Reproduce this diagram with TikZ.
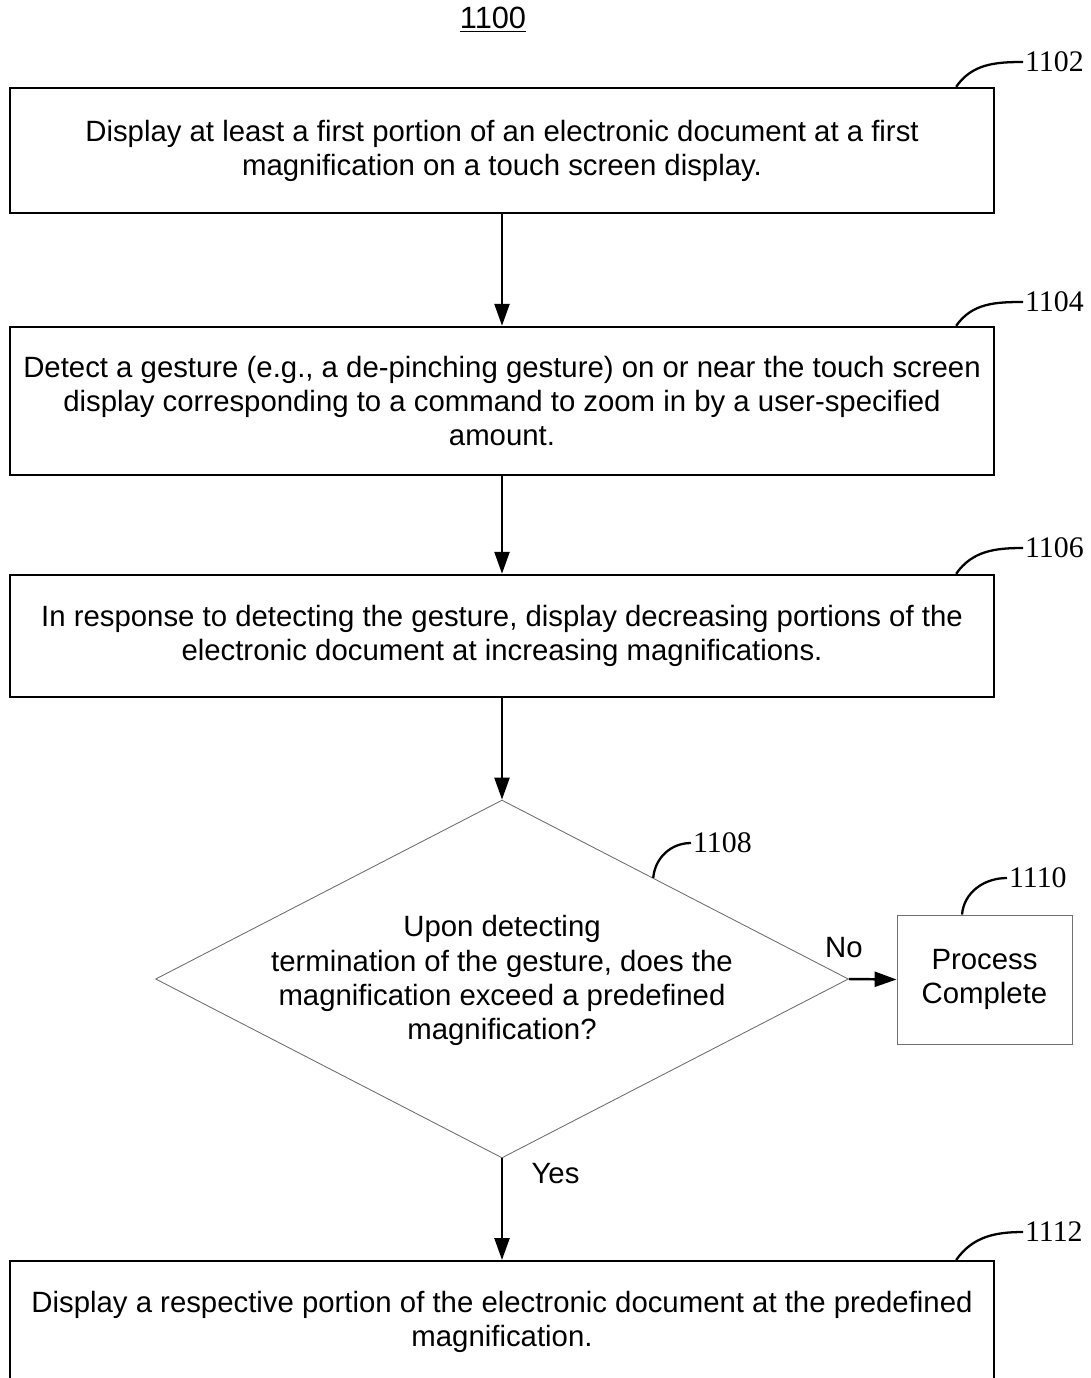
\documentclass[tikz,border=0pt]{standalone}
\usepackage{fontspec}
\setmainfont{Liberation Sans}
\newfontfamily\refnumfont{Liberation Serif}
\usetikzlibrary{positioning,shapes.geometric,arrows.meta,calc}
\definecolor{thingray}{HTML}{707070}

\begin{document}
\begin{tikzpicture}[
      x=0.02cm, y=-0.02cm,
      every node/.style={font=\fontsize{16.7}{19.4}\selectfont},
      stepbox/.style={
        rectangle,
        draw=black,
        line width=1.4pt,
        minimum width=19.68cm,
        align=center,
        inner sep=0pt,
      },
      endbox/.style={
        rectangle,
        draw=thingray,
        line width=0.5pt,
        minimum width=3.5cm,
        minimum height=2.58cm,
        align=center,
      },
      decision/.style={
        diamond,
        draw=thingray,
        line width=0.5pt,
        minimum width=13.86cm,
        minimum height=7.16cm,
        inner sep=0pt,
      },
      refnum/.style={font=\refnumfont\fontsize{17}{18}\selectfont, anchor=west, inner sep=1pt},
      leader/.style={line width=1.3pt},
      flow/.style={line width=1.4pt, -{Triangle[length=0.44cm,width=0.3cm]}}
      ]
      \useasboundingbox (0,0) rectangle (1090,1378);
      \node[font=\fontsize{17.5}{20}\selectfont] (title) at (493,20) {\underline{1100}};
      % process steps
      \node[stepbox, minimum height=2.5cm] (b1102) at (502,150.5) {Display at least a first portion of an electronic document at a first\\magnification on a touch screen display.};
      \node[stepbox, minimum height=2.96cm] (b1104) at (502,401) {Detect a gesture (e.g., a de-pinching gesture) on or near the touch screen\\display corresponding to a command to zoom in by a user-specified\\amount.};
      \node[stepbox, minimum height=2.44cm] (b1106) at (502,636) {In response to detecting the gesture, display decreasing portions of the\\electronic document at increasing magnifications.};
      \node[decision] (q1108) at (502,979) {};
      \node[align=center] (t1108) at (502,980.5) {Upon detecting\\termination of the gesture, does the\\magnification exceed a predefined\\magnification?};
      \node[endbox] (e1110) at (984.5,979.5) {Process\\Complete};
      \node[stepbox, minimum height=2.44cm, anchor=north] (b1112) at (502,1260) {Display a respective portion of the electronic document at the predefined\\magnification.};
      % reference numerals
      \node[refnum] (l1102) at (1023,62) {1102};
      \node[refnum] (l1104) at (1023,302) {1104};
      \node[refnum] (l1106) at (1023,548) {1106};
      \node[refnum] (l1108) at (691,843) {1108};
      \node[refnum] (l1110) at (1007,878) {1110};
      \node[refnum] (l1112) at (1023,1232) {1112};
      \draw[leader] ([xshift=-0.78cm]b1102.north east) to[out=55,in=180] (l1102.west);
      \draw[leader] ([xshift=-0.78cm]b1104.north east) to[out=55,in=180] (l1104.west);
      \draw[leader] ([xshift=-0.78cm]b1106.north east) to[out=55,in=180] (l1106.west);
      \draw[leader] ($(q1108.north)!0.436!(q1108.east)$) to[out=85,in=180] (l1108.west);
      \draw[leader] ([xshift=-0.45cm]e1110.north) to[out=85,in=180] (l1110.west);
      \draw[leader] ([xshift=-0.78cm]b1112.north east) to[out=55,in=180] (l1112.west);
      % flow
      \draw[flow] (b1102) -- (b1104);
      \draw[flow] (b1104) -- (b1106);
      \draw[flow] (b1106) -- (q1108);
      \draw[flow] (q1108.east) -- (e1110.west) node[pos=0, above=8pt, xshift=-0.1cm] {No};
      \draw[flow] (q1108.south) -- (b1112.north) node[pos=0.15, right=0.45cm] {Yes};
\end{tikzpicture}
\end{document}
